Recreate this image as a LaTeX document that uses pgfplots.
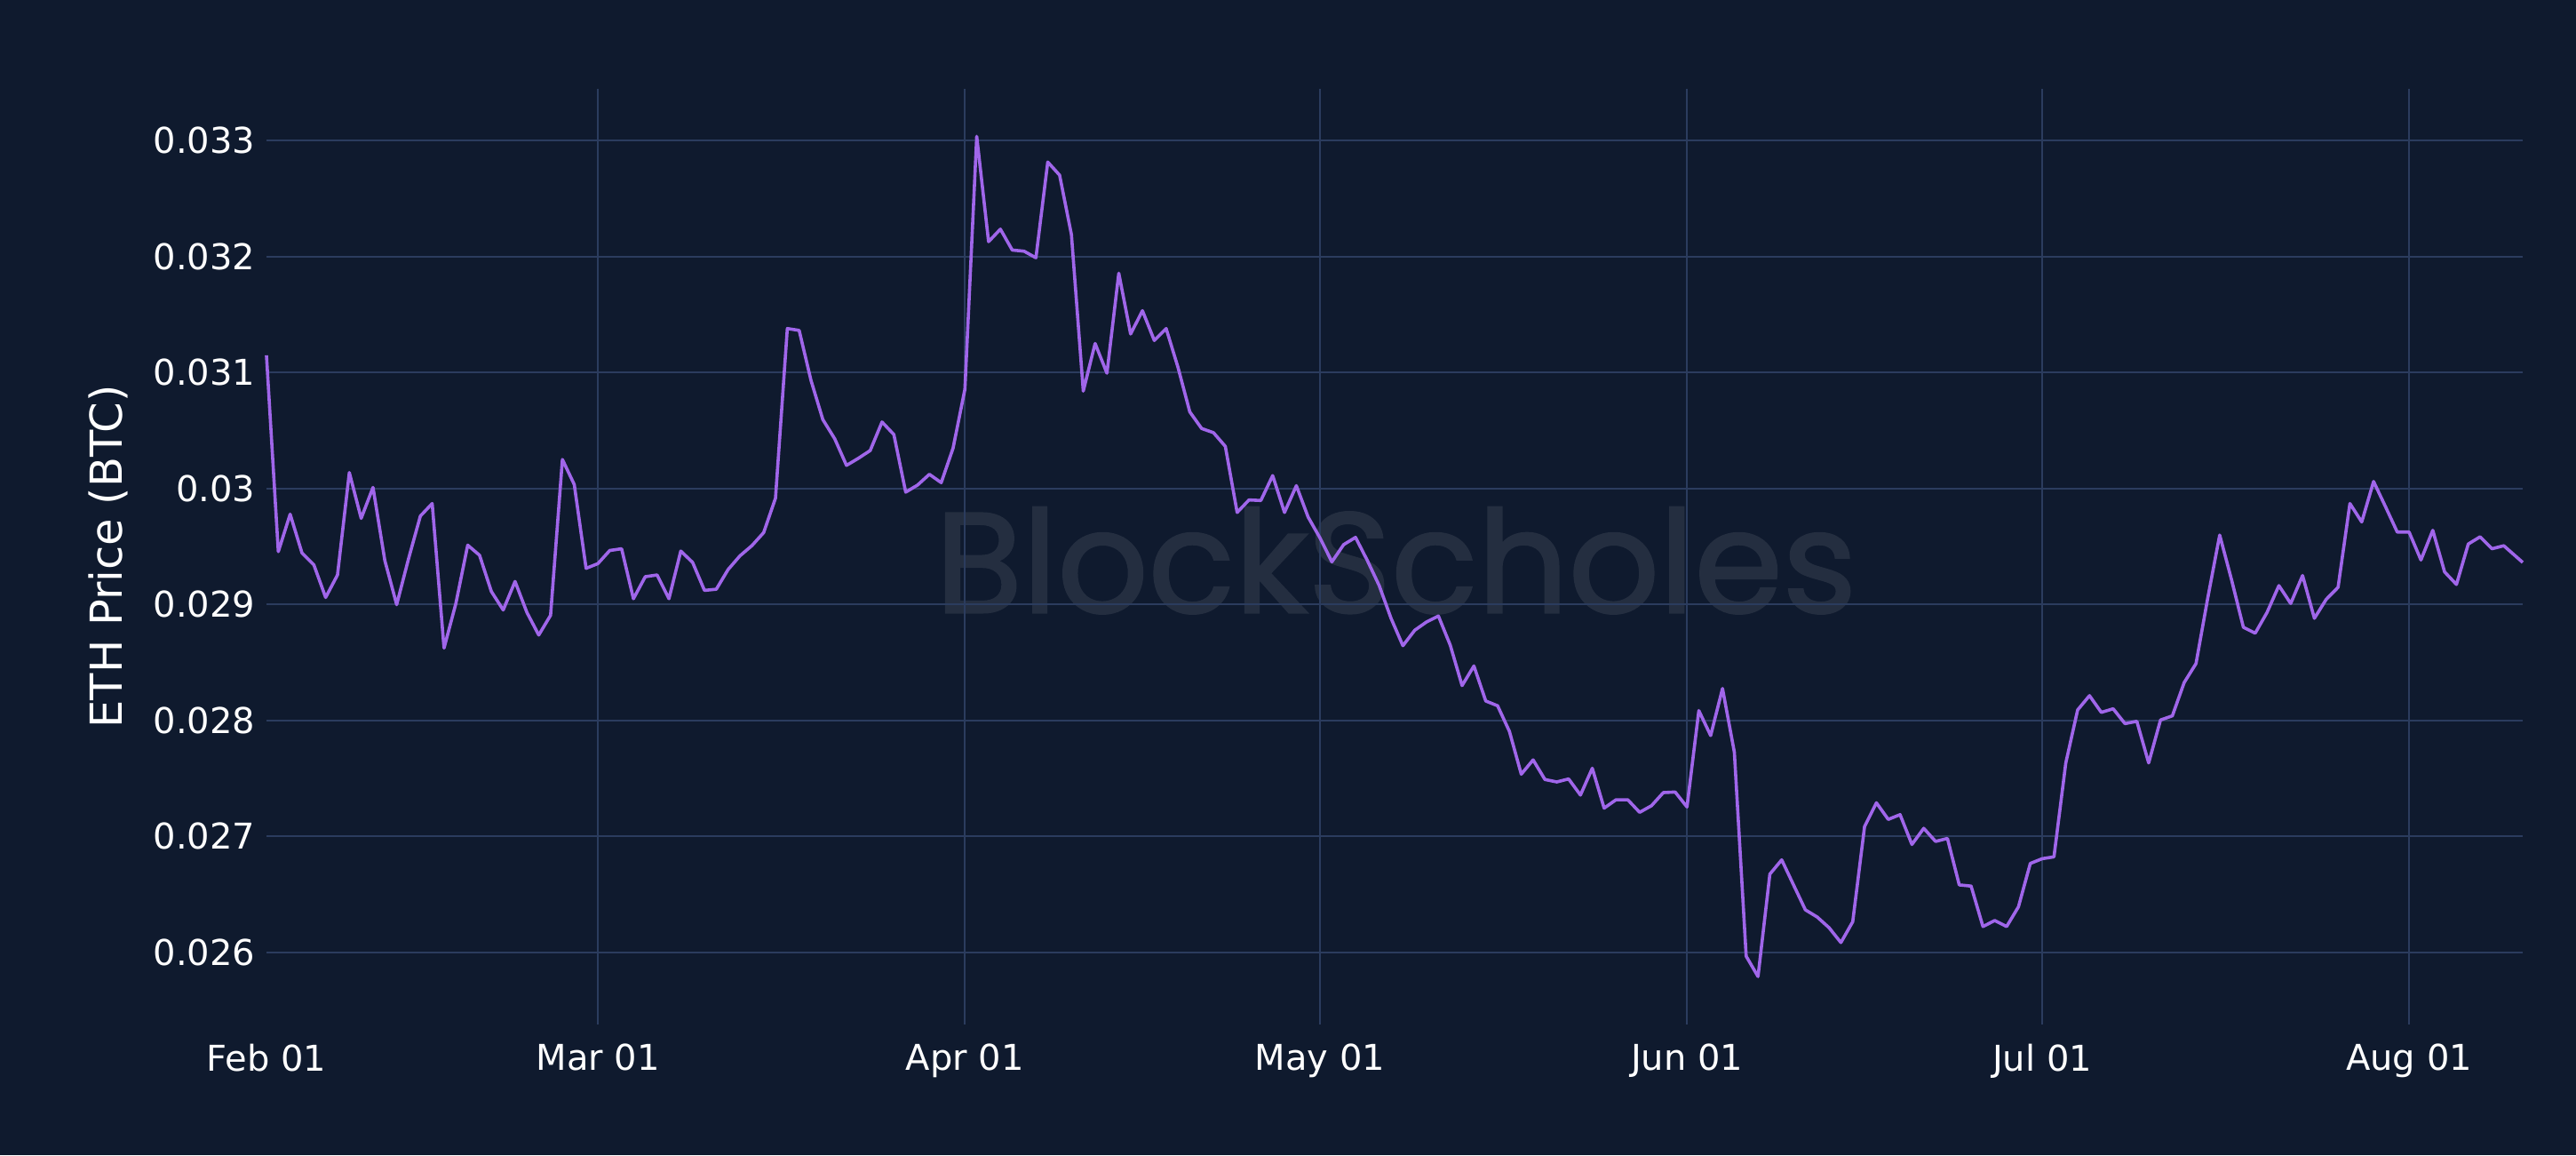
\documentclass[border=0pt]{standalone}
\usepackage{fontspec}
\setmainfont{DejaVu Sans}
\newfontfamily\wmfont{Poppins}[FakeBold=1.6]
\usepackage{pgfplots}
\usepackage{pgfplotstable}
\pgfplotsset{compat=1.18}
\definecolor{bgc}{HTML}{0F1A2E}
\definecolor{gridc}{HTML}{2B3C5E}
\definecolor{linec}{HTML}{A066EA}
\definecolor{wmc}{HTML}{242E40}
\pgfplotstableread{
d v
0 0.031148
1 0.029455
2 0.029778
3 0.029444
4 0.029342
5 0.029060
6 0.029254
7 0.030137
8 0.029742
9 0.030009
10 0.029378
11 0.028998
12 0.029393
13 0.029762
14 0.029870
15 0.028623
16 0.029008
17 0.029511
18 0.029424
19 0.029111
20 0.028952
21 0.029198
22 0.028931
23 0.028736
24 0.028906
25 0.030250
26 0.030034
27 0.029311
28 0.029352
29 0.029465
30 0.029480
31 0.029049
32 0.029239
33 0.029254
34 0.029049
35 0.029460
36 0.029362
37 0.029121
38 0.029131
39 0.029301
40 0.029419
41 0.029506
42 0.029619
43 0.029916
44 0.031379
45 0.031363
46 0.030932
47 0.030594
48 0.030429
49 0.030199
50 0.030260
51 0.030327
52 0.030573
53 0.030465
54 0.029968
55 0.030029
56 0.030122
57 0.030050
58 0.030347
59 0.030855
60 0.033036
61 0.032128
62 0.032236
63 0.032056
64 0.032046
65 0.031989
66 0.032815
67 0.032702
68 0.032189
69 0.030840
70 0.031250
71 0.030994
72 0.031856
73 0.031332
74 0.031533
75 0.031276
76 0.031379
77 0.031045
78 0.030660
79 0.030517
80 0.030481
81 0.030363
82 0.029793
83 0.029901
84 0.029896
85 0.030111
86 0.029793
87 0.030024
88 0.029752
89 0.029573
90 0.029367
91 0.029516
92 0.029578
93 0.029378
94 0.029162
95 0.028880
96 0.028644
97 0.028777
98 0.028849
99 0.028900
100 0.028649
101 0.028300
102 0.028469
103 0.028167
104 0.028126
105 0.027905
106 0.027536
107 0.027659
108 0.027490
109 0.027469
110 0.027495
111 0.027356
112 0.027587
113 0.027243
114 0.027315
115 0.027315
116 0.027207
117 0.027264
118 0.027377
119 0.027382
120 0.027253
121 0.028084
122 0.027869
123 0.028275
124 0.027726
125 0.025966
126 0.025791
127 0.026674
128 0.026797
129 0.026581
130 0.026366
131 0.026304
132 0.026212
133 0.026084
134 0.026263
135 0.027084
136 0.027289
137 0.027146
138 0.027187
139 0.026930
140 0.027069
141 0.026956
142 0.026982
143 0.026581
144 0.026571
145 0.026222
146 0.026274
147 0.026222
148 0.026392
149 0.026766
150 0.026807
151 0.026823
152 0.027633
153 0.028090
154 0.028213
155 0.028069
156 0.028100
157 0.027972
158 0.027992
159 0.027633
160 0.028003
161 0.028039
162 0.028326
163 0.028490
164 0.029060
165 0.029598
166 0.029213
167 0.028803
168 0.028752
169 0.028931
170 0.029162
171 0.029008
172 0.029249
173 0.028880
174 0.029044
175 0.029147
176 0.029870
177 0.029711
178 0.030060
179 0.029844
180 0.029624
181 0.029624
182 0.029383
183 0.029639
184 0.029280
185 0.029172
186 0.029521
187 0.029583
188 0.029480
189 0.029506
190.6 0.029362
}\ethbtc
\begin{document}
\begin{tikzpicture}
\begin{axis}[
  set layers,
  clip=false,
  scale only axis,
  width=635pt, height=263.25pt,
  xmin=0, xmax=190.6,
  ymin=0.025377, ymax=0.033446,
  axis line style={draw=none},
  major tick length=0pt,
  grid=major,
  major grid style={draw=gridc, line width=0.5pt},
  xtick={28,59,89,120,150,181},
  xticklabels={Mar 01,Apr 01,May 01,Jun 01,Jul 01,Aug 01},
  extra x ticks={0},
  extra x tick labels={Feb 01},
  extra x tick style={grid=none},
  ytick={0.026,0.027,0.028,0.029,0.030,0.031,0.032,0.033},
  yticklabels={0.026,0.027,0.028,0.029,0.03,0.031,0.032,0.033},
  scaled y ticks=false,
  tick label style={text=white, font=\fontsize{10}{12}\selectfont},
  xticklabel style={inner sep=0pt, anchor=north, yshift=-5.25pt},
  yticklabel style={inner sep=0pt, anchor=east, xshift=-3pt},
  ylabel={ETH Price (BTC)},
  ylabel style={at={(axis description cs:-0.06378,0.5)}, anchor=base, text=white, font=\fontsize{12.4}{14}\selectfont, inner sep=0pt},
]
\begin{pgfonlayer}{axis background}
\fill[bgc] (rel axis cs:-0.118110,-0.139601) rectangle (rel axis cs:1.023622,1.094967);
\node[anchor=base, inner sep=0pt, text=wmc, font=\wmfont\fontsize{40}{48}\selectfont] at (axis cs:95.42,0.028931) {BlockScholes};
\end{pgfonlayer}
\addplot[linec, line width=0.9pt, line join=round, mark=none] table[x=d, y=v] {\ethbtc};
\end{axis}
\end{tikzpicture}
\end{document}
